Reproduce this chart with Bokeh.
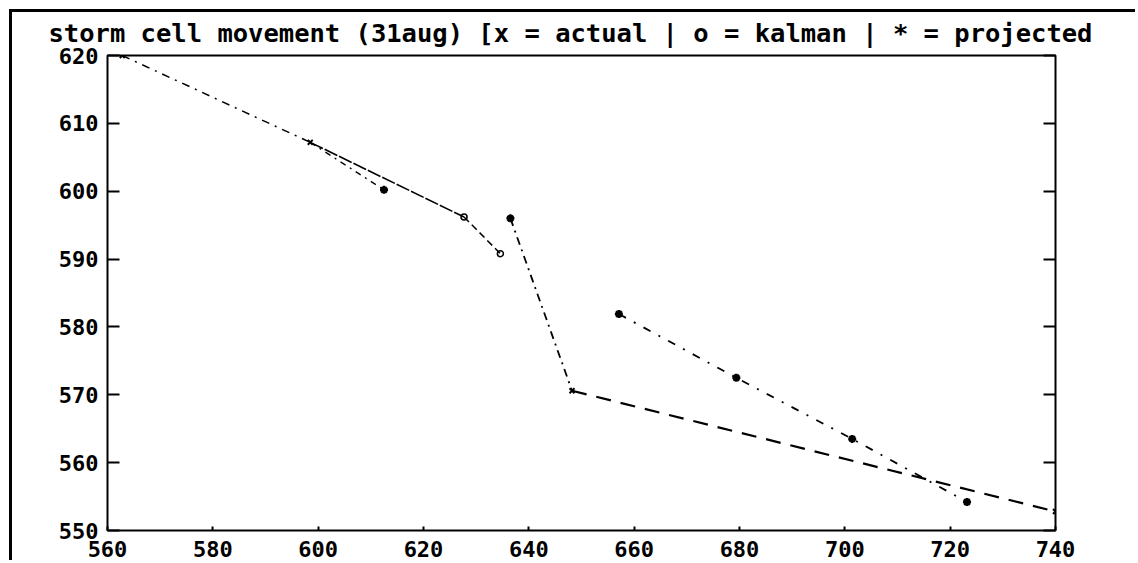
from bokeh.plotting import figure
from bokeh.models import Range1d, LinearAxis, FixedTicker, CustomJSTickFormatter
from bokeh.embed import file_html
from bokeh.resources import INLINE

# ---- data ----
title_text = "storm cell movement (31aug) [x = actual | o = kalman | * = projected"
x_ticks = [560, 580, 600, 620, 640, 660, 680, 700, 720, 740]
y_ticks = [550, 560, 570, 580, 590, 600, 610, 620]

# track segments
seg_a_x = [562.8, 598.5]
seg_a_y = [620.0, 607.2]
seg_b_x = [598.5, 612.5]
seg_b_y = [607.2, 600.2]
seg_c1_x = [598.5, 627.7]
seg_c1_y = [607.2, 596.2]
seg_c2_x = [627.7, 634.6]
seg_c2_y = [596.2, 590.8]
seg_d1_x = [636.5, 648.2]
seg_d1_y = [596.0, 570.6]
seg_d2_x = [648.2, 740.0]
seg_d2_y = [570.6, 552.8]
seg_e_x = [657.1, 679.4, 701.4, 723.2]
seg_e_y = [581.9, 572.5, 563.5, 554.2]

# point markers
actual_x = [562.8, 598.5, 648.2, 740.0]
actual_y = [620.0, 607.2, 570.6, 552.8]
kalman_x = [627.7, 634.6]
kalman_y = [596.2, 590.8]
projected_x = [612.5, 636.5, 657.1, 679.4, 701.4, 723.2]
projected_y = [600.2, 596.0, 581.9, 572.5, 563.5, 554.2]

FONT = "DejaVu Sans Mono"

p = figure(width=1126, height=551,
           x_range=Range1d(560, 740), y_range=Range1d(550, 620),
           output_backend="svg", toolbar_location=None,
           min_border_left=95, min_border_right=83,
           min_border_top=43, min_border_bottom=33)
p.styles = {"margin-left": "9px", "margin-top": "9px",
            "border-left": "3px solid black", "border-top": "3px solid black"}

p.background_fill_color = "white"
p.border_fill_color = "white"
p.outline_line_color = "black"
p.outline_line_width = 2
p.outline_line_alpha = 1.0
p.xgrid.visible = False
p.ygrid.visible = False

p.title.text = title_text
p.title.align = "left"
p.title.offset = -59
p.title.vertical_align = "top"
p.title.text_font = FONT
p.title.text_font_style = "bold"
p.title.text_font_size = "25.5px"
p.title.text_color = "black"
p.title.standoff = 11

for ax in p.xaxis:
    ax.ticker = FixedTicker(ticks=x_ticks)
    ax.axis_line_color = None
    ax.major_tick_in = 4
    ax.major_tick_out = 0
    ax.major_tick_line_width = 2
    ax.minor_tick_line_color = None
    ax.major_label_text_font = FONT
    ax.major_label_text_font_style = "bold"
    ax.major_label_text_font_size = "22px"
    ax.major_label_text_color = "black"
    ax.major_label_standoff = 10

for ax in p.yaxis:
    ax.ticker = FixedTicker(ticks=y_ticks)
    ax.axis_line_color = None
    ax.major_tick_in = 12
    ax.major_tick_out = 0
    ax.major_tick_line_width = 2
    ax.minor_tick_line_color = None
    ax.major_label_text_font = FONT
    ax.major_label_text_font_style = "bold"
    ax.major_label_text_font_size = "22px"
    ax.major_label_text_color = "black"
    ax.major_label_standoff = 9

right_ax = LinearAxis(ticker=FixedTicker(ticks=y_ticks),
                      formatter=CustomJSTickFormatter(code="return ''"))
right_ax.axis_line_color = None
right_ax.major_tick_in = 12
right_ax.major_tick_out = 0
right_ax.major_tick_line_width = 2
right_ax.minor_tick_line_color = None
p.add_layout(right_ax, "right")

# lines
p.line(seg_a_x, seg_a_y, line_color="black", line_width=1.5, line_dash="8 6 2 6")
p.line(seg_b_x, seg_b_y, line_color="black", line_width=1.3, line_dash="6 5 2 5")
p.line(seg_c1_x, seg_c1_y, line_color="black", line_width=1.6, line_dash="14 2")
p.line(seg_c2_x, seg_c2_y, line_color="black", line_width=1.5, line_dash="7 4")
p.line(seg_d1_x, seg_d1_y, line_color="black", line_width=1.8, line_dash="8 5 2 5")
p.line(seg_d2_x, seg_d2_y, line_color="black", line_width=2.2, line_dash="15 10")
p.line(seg_e_x, seg_e_y, line_color="black", line_width=1.8, line_dash="8 9 2 9")

# markers
p.scatter(actual_x, actual_y, marker="x", size=7, line_color="black", line_width=2)
p.scatter(kalman_x, kalman_y, marker="circle", size=6, line_color="black",
          fill_color=None, line_width=1.5)
p.scatter(projected_x, projected_y, marker="asterisk", size=8, line_color="black",
          line_width=2.5)

open("out.html", "w").write(file_html(p, INLINE))
